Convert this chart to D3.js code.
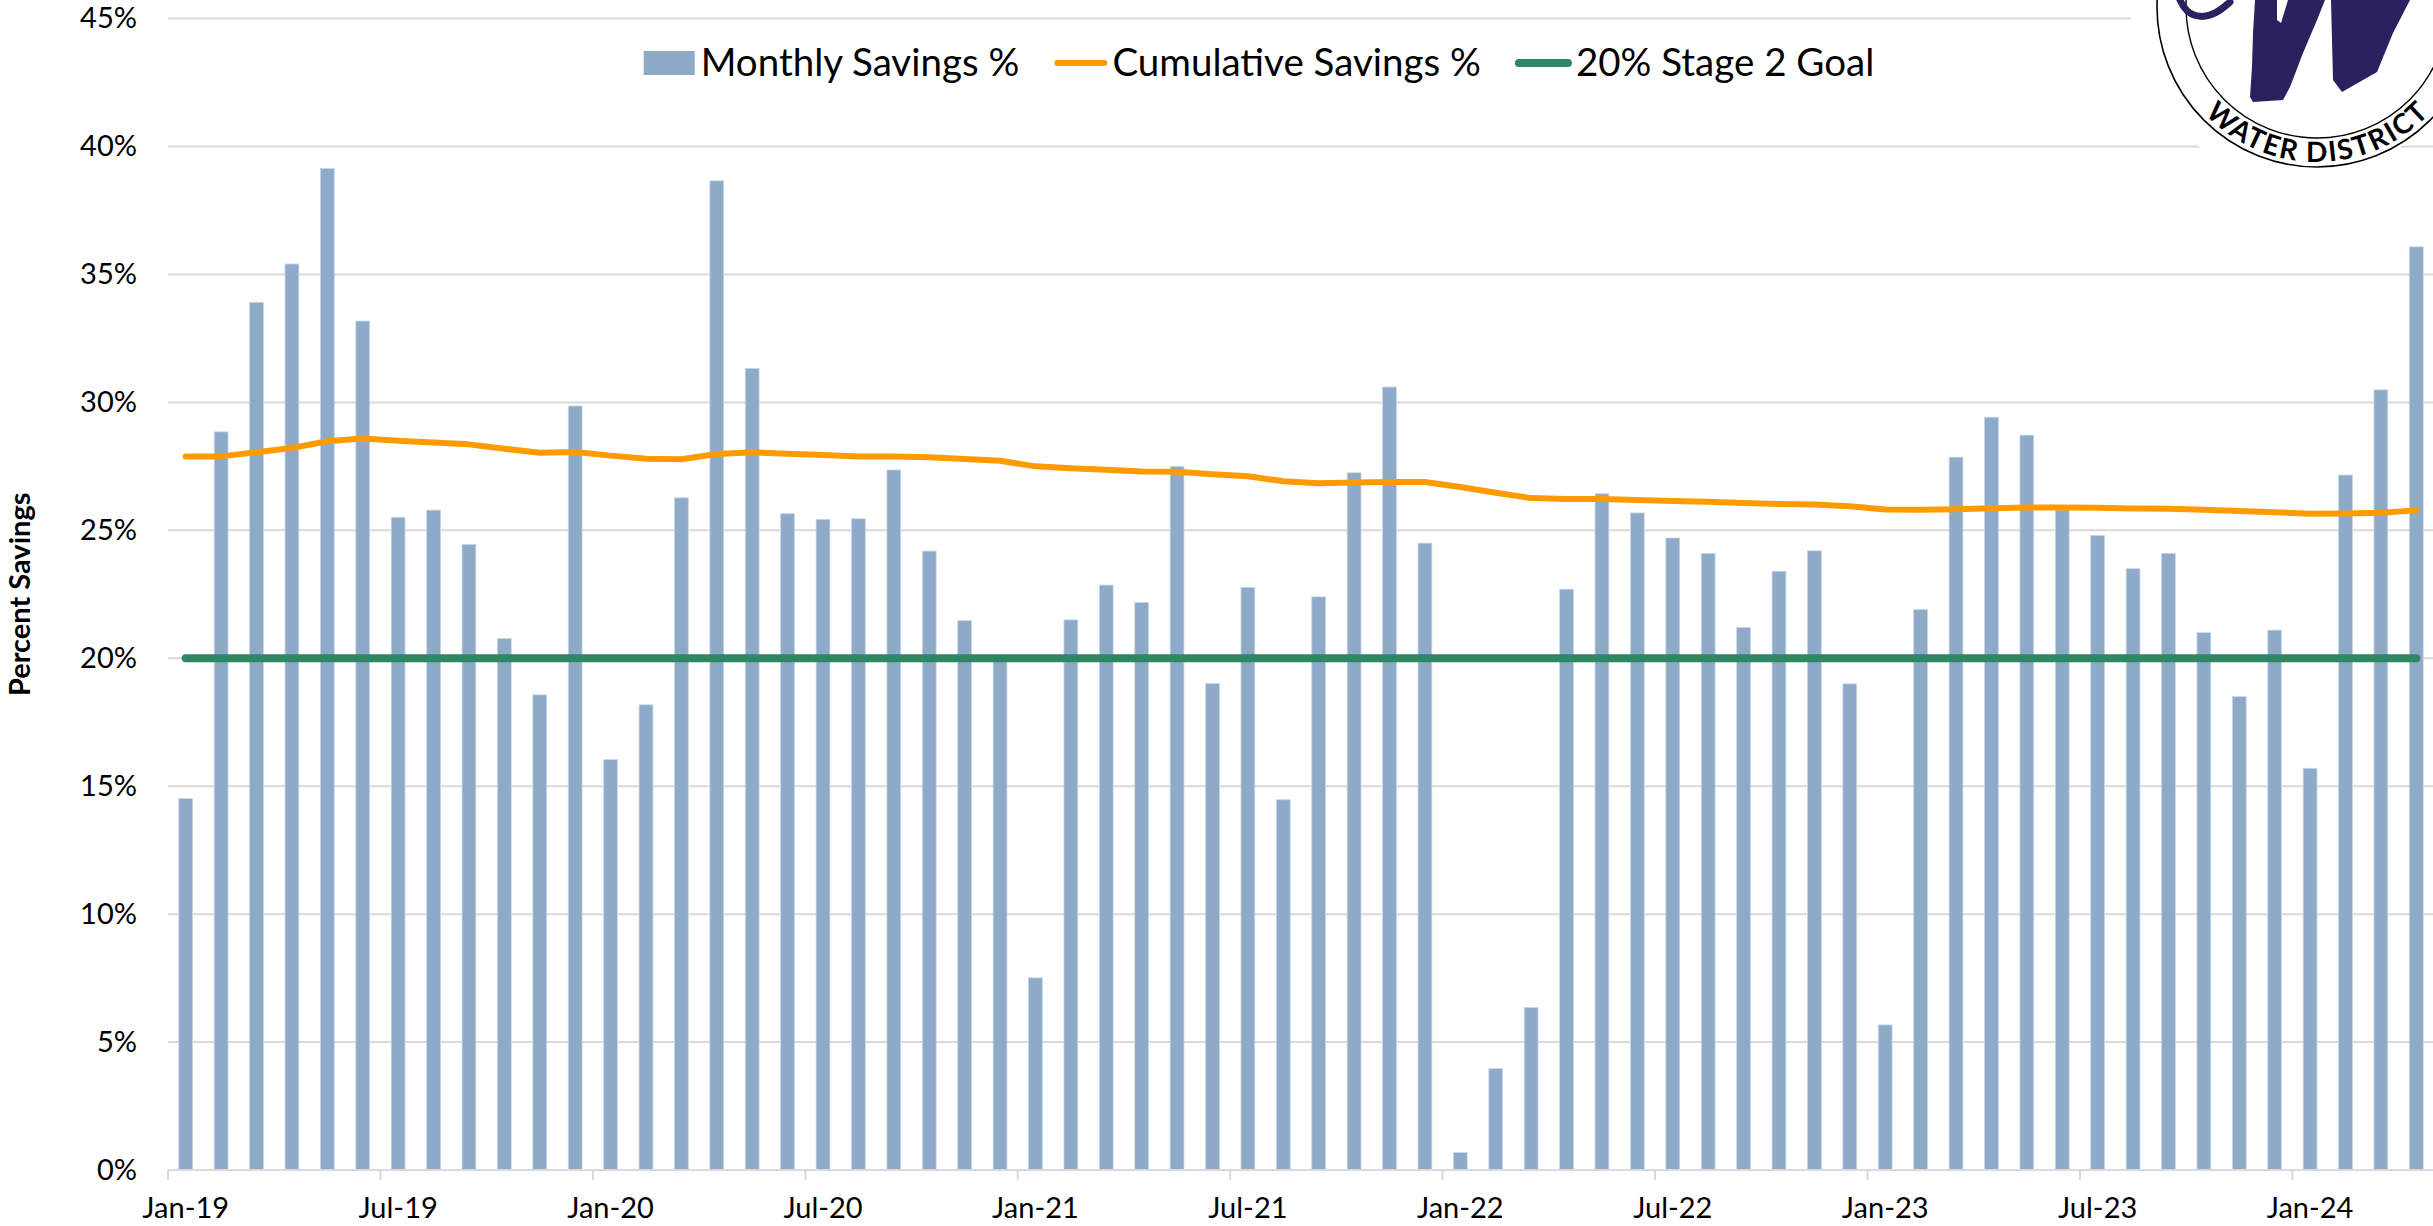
<!DOCTYPE html>
<html>
<head>
<meta charset="utf-8">
<script src="https://cdn.jsdelivr.net/npm/d3@7"></script>
<style>
  html, body { margin: 0; padding: 0; background: #ffffff; }
  svg { display: block; }
  text { font-family: Lato, "Open Sans", sans-serif; }
</style>
</head>
<body>
<svg id="chart" width="2433" height="1226"></svg>
<script>
// ---------------- DATA ----------------
const months = [
  "Jan-19","Feb-19","Mar-19","Apr-19","May-19","Jun-19","Jul-19","Aug-19","Sep-19","Oct-19","Nov-19","Dec-19",
  "Jan-20","Feb-20","Mar-20","Apr-20","May-20","Jun-20","Jul-20","Aug-20","Sep-20","Oct-20","Nov-20","Dec-20",
  "Jan-21","Feb-21","Mar-21","Apr-21","May-21","Jun-21","Jul-21","Aug-21","Sep-21","Oct-21","Nov-21","Dec-21",
  "Jan-22","Feb-22","Mar-22","Apr-22","May-22","Jun-22","Jul-22","Aug-22","Sep-22","Oct-22","Nov-22","Dec-22",
  "Jan-23","Feb-23","Mar-23","Apr-23","May-23","Jun-23","Jul-23","Aug-23","Sep-23","Oct-23","Nov-23","Dec-23",
  "Jan-24","Feb-24","Mar-24","Apr-24"
];

// Monthly Savings % (bars)
const monthlySavings = [
  14.52, 28.85, 33.91, 35.41, 39.14, 33.18, 25.51, 25.79, 24.45, 20.77, 18.57, 29.86,
  16.04, 18.18, 26.27, 38.66, 31.33, 25.65, 25.43, 25.45, 27.36, 24.19, 21.47, 19.90,
  7.51, 21.50, 22.86, 22.18, 27.50, 19.01, 22.77, 14.47, 22.40, 27.25, 30.60, 24.50,
  0.68, 3.96, 6.35, 22.70, 26.43, 25.68, 24.70, 24.10, 21.20, 23.40, 24.20, 19.00,
  5.67, 21.90, 27.86, 29.42, 28.72, 25.80, 24.80, 23.50, 24.10, 21.00, 18.50, 21.10,
  15.70, 27.16, 30.49, 36.08
];

// Cumulative Savings % (orange line)
const cumulativeSavings = [
  27.89, 27.89, 28.05, 28.22, 28.48, 28.59, 28.50, 28.43, 28.36, 28.19, 28.03, 28.06,
  27.92, 27.80, 27.78, 27.98, 28.05, 27.99, 27.94, 27.89, 27.89, 27.86, 27.79, 27.72,
  27.50, 27.43, 27.37, 27.30, 27.29, 27.19, 27.11, 26.92, 26.84, 26.87, 26.89, 26.89,
  26.69, 26.47, 26.26, 26.22, 26.22, 26.19, 26.15, 26.12, 26.07, 26.03, 26.01, 25.94,
  25.81, 25.80, 25.82, 25.86, 25.89, 25.89, 25.88, 25.85, 25.84, 25.80, 25.76, 25.71,
  25.65, 25.66, 25.69, 25.78
];

// 20% Stage 2 Goal
const stage2Goal = 20;

// Axis ticks
const yTicks = [0, 5, 10, 15, 20, 25, 30, 35, 40, 45];
const xTickLabels = ["Jan-19","Jul-19","Jan-20","Jul-20","Jan-21","Jul-21","Jan-22","Jul-22","Jan-23","Jul-23","Jan-24"];

const legendItems = [
  { label: "Monthly Savings %", type: "bar" },
  { label: "Cumulative Savings %", type: "line", key: "cum" },
  { label: "20% Stage 2 Goal", type: "line", key: "goal" }
];

// ---------------- STYLE / LAYOUT ----------------
const W = 2433, H = 1226;
const plot = { left: 168, right: 2434, top: 18.6, bottom: 1170 };
const colors = {
  bar: "#8DAAC9",
  cum: "#FF9B00",
  goal: "#2E8662",
  grid: "#D9D9D9",
  text: "#000000",
  logo: "#2A215E"
};

const svg = d3.select("#chart");
svg.append("rect").attr("width", W).attr("height", H).attr("fill", "#fff");

const x = d3.scaleBand().domain(months).range([plot.left, plot.right])
  .paddingInner(0.61).paddingOuter(0.305);
const xSlot = d3.scaleBand().domain(months).range([plot.left, plot.right]).padding(0);
const xc = m => xSlot(m) + xSlot.bandwidth() / 2;
const y = d3.scaleLinear().domain([0, 45]).range([plot.bottom, plot.top]);

// Gridlines
const grid = svg.append("g");
grid.selectAll("line").data(yTicks.filter(t => t > 0)).join("line")
  .attr("x1", plot.left).attr("x2", W)
  .attr("y1", d => y(d)).attr("y2", d => y(d))
  .attr("stroke", colors.grid).attr("stroke-width", 2);

// Y axis labels
const yAxis = d3.axisLeft(y).tickValues(yTicks).tickSize(0).tickPadding(31)
  .tickFormat(d => d + "%");
const gy = svg.append("g").attr("transform", `translate(${plot.left},0)`).call(yAxis);
gy.select(".domain").remove();
gy.selectAll("text").attr("font-size", 29).attr("fill", colors.text)
  .style("font-family", "Lato, sans-serif");

// Bars
svg.append("g").selectAll("rect").data(months).join("rect")
  .attr("x", m => x(m))
  .attr("width", x.bandwidth())
  .attr("y", (m, i) => y(monthlySavings[i]))
  .attr("height", (m, i) => y(0) - y(monthlySavings[i]))
  .attr("fill", colors.bar)
  .attr("stroke", "#C9D6E5").attr("stroke-width", 0.8);

// X axis line & ticks
svg.append("line").attr("x1", plot.left).attr("x2", W)
  .attr("y1", y(0)).attr("y2", y(0))
  .attr("stroke", colors.grid).attr("stroke-width", 2);
const gx = svg.append("g");
gx.selectAll("line").data(xTickLabels).join("line")
  .attr("x1", m => xSlot(m)).attr("x2", m => xSlot(m))
  .attr("y1", y(0)).attr("y2", y(0) + 10)
  .attr("stroke", colors.grid).attr("stroke-width", 2);
gx.selectAll("text").data(xTickLabels).join("text")
  .attr("x", m => xc(m)).attr("y", 1218)
  .attr("text-anchor", "middle").attr("font-size", 29).attr("fill", colors.text)
  .text(d => d);

// Goal line
svg.append("path")
  .datum(months)
  .attr("d", d3.line().x(m => xc(m)).y(() => y(stage2Goal)))
  .attr("fill", "none").attr("stroke", colors.goal).attr("stroke-width", 8)
  .attr("stroke-linecap", "round");

// Cumulative line
svg.append("path")
  .datum(months)
  .attr("d", d3.line().x(m => xc(m)).y((m, i) => y(cumulativeSavings[i])))
  .attr("fill", "none").attr("stroke", colors.cum).attr("stroke-width", 6)
  .attr("stroke-linecap", "round").attr("stroke-linejoin", "round");

// Y axis title
svg.append("text")
  .attr("transform", `translate(30, ${(plot.top + plot.bottom) / 2}) rotate(-90)`)
  .attr("text-anchor", "middle").attr("font-size", 29).attr("font-weight", 700)
  .attr("fill", colors.text).text("Percent Savings");

// Legend
const leg = svg.append("g");
const legFont = 38.5;
const items = legendItems.map(d => {
  const t = leg.append("text").attr("font-size", legFont).attr("fill", colors.text).text(d.label);
  return { d, t, w: t.node().getComputedTextLength() };
});
const swW = { bar: 51, cum: 55, goal: 57 };
const swGap = { bar: 6, cum: 4, goal: 4 };
const itemGap = 34;
let total = 0;
items.forEach((it, i) => {
  const k = it.d.type === "bar" ? "bar" : it.d.key;
  total += swW[k] + swGap[k] + it.w + (i < items.length - 1 ? itemGap : 0);
});
let lx = 1259 - total / 2;
const legY = 63;
items.forEach(it => {
  const k = it.d.type === "bar" ? "bar" : it.d.key;
  if (k === "bar") {
    leg.append("rect").attr("x", lx).attr("y", legY - 12).attr("width", swW.bar).attr("height", 24)
      .attr("fill", colors.bar);
  } else {
    leg.append("line").attr("x1", lx + 4).attr("x2", lx + swW[k] - 4)
      .attr("y1", legY).attr("y2", legY)
      .attr("stroke", colors[k]).attr("stroke-width", k === "goal" ? 8 : 6)
      .attr("stroke-linecap", "round");
  }
  lx += swW[k] + swGap[k];
  it.t.attr("x", lx).attr("y", legY + 13);
  lx += it.w + itemGap;
});

// Logo (decorative)
const logo = svg.append("g");
const lc = { x: 2317, y: 7 };
logo.append("ellipse").attr("cx", 2300).attr("cy", 0).attr("rx", 170).attr("ry", 182).attr("fill", "#fff");
logo.append("circle").attr("cx", lc.x).attr("cy", lc.y).attr("r", 160)
  .attr("fill", "none").attr("stroke", "#000").attr("stroke-width", 1.6);
logo.append("circle").attr("cx", lc.x).attr("cy", lc.y).attr("r", 131)
  .attr("fill", "none").attr("stroke", "#000").attr("stroke-width", 1.4);
const lineGen = d3.line();
logo.append("path").attr("d", lineGen([[2255,0],[2253,33],[2252,67],[2250,97],[2253,102],[2283,100],[2290,87],[2303,53],[2317,20],[2325,0]]) + "Z")
  .attr("fill", colors.logo);
logo.append("path").attr("d", lineGen([[2277,0],[2288,0],[2281,23],[2277,20]]) + "Z").attr("fill", "#fff");
logo.append("path").attr("d", lineGen([[2331,0],[2332,40],[2333,80],[2342,92],[2377,72],[2393,33],[2410,0]]) + "Z")
  .attr("fill", colors.logo);
logo.append("path").attr("d", d3.line().curve(d3.curveBasis)([[2180,0],[2186,12],[2200,18],[2216,14],[2230,2]]))
  .attr("fill", "none").attr("stroke", colors.logo).attr("stroke-width", 7).attr("stroke-linecap", "round");
const rT = 155;
const a1 = 150 * Math.PI / 180, a2 = 30 * Math.PI / 180;
const p1 = [lc.x + rT * Math.cos(a1), lc.y + rT * Math.sin(a1)];
const p2 = [lc.x + rT * Math.cos(a2), lc.y + rT * Math.sin(a2)];
logo.append("path").attr("id", "logoArc")
  .attr("d", `M${p1[0]},${p1[1]} A${rT},${rT} 0 0 0 ${p2[0]},${p2[1]}`)
  .attr("fill", "none");
logo.append("text").attr("font-size", 28).attr("font-weight", 700).attr("fill", "#000")
  .append("textPath").attr("href", "#logoArc").attr("startOffset", "50%")
  .attr("text-anchor", "middle").attr("textLength", 250).attr("lengthAdjust", "spacing")
  .text("WATER DISTRICT");
</script>
</body>
</html>
